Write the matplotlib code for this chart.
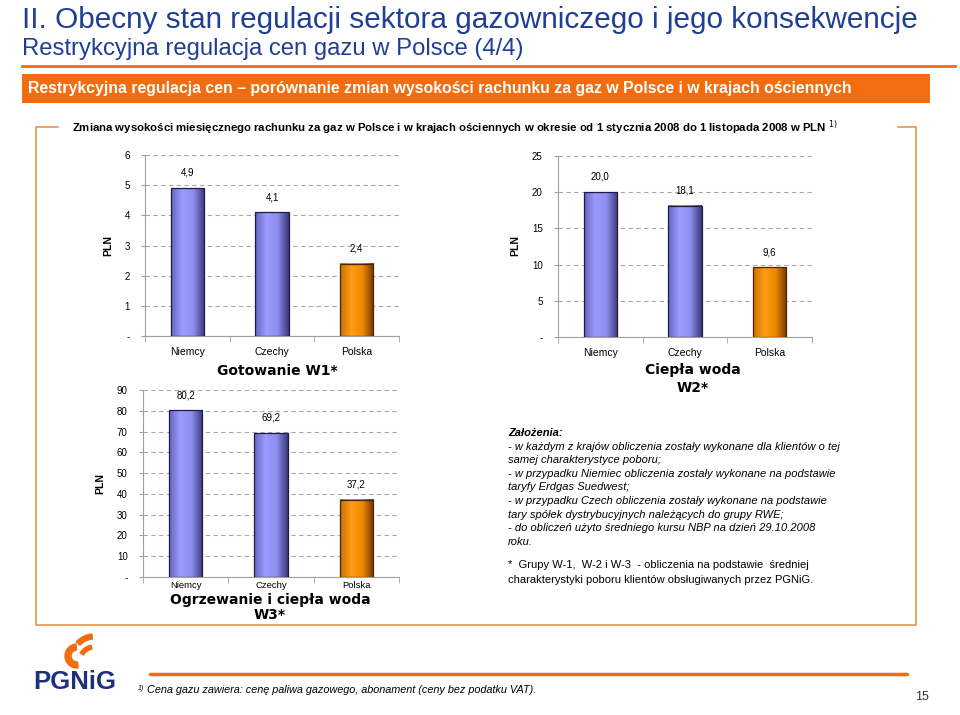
import numpy as np
import matplotlib.pyplot as plt
from matplotlib.colors import LinearSegmentedColormap
from matplotlib.lines import Line2D
from matplotlib.patches import Rectangle, Wedge

plt.rcParams['font.family'] = ['Liberation Sans', 'DejaVu Sans']

# data
countries = ['Niemcy', 'Czechy', 'Polska']
w1_values = [4.9, 4.1, 2.4]
w2_values = [20.0, 18.1, 9.6]
w3_values = [80.2, 69.2, 37.2]
w1_ticks = [0, 1, 2, 3, 4, 5, 6]
w2_ticks = [0, 5, 10, 15, 20, 25]
w3_ticks = [0, 10, 20, 30, 40, 50, 60, 70, 80, 90]

notes = [
    '- w każdym z krajów obliczenia zostały wykonane dla klientów o tej',
    'samej charakterystyce poboru;',
    '- w przypadku Niemiec obliczenia zostały wykonane na podstawie',
    'taryfy Erdgas Suedwest;',
    '- w przypadku Czech obliczenia zostały wykonane na podstawie',
    'tary spółek dystrybucyjnych należących do grupy RWE;',
    '- do obliczeń użyto średniego kursu NBP na dzień 29.10.2008',
    'roku.',
]

W, H = 960, 715
fig = plt.figure(figsize=(9.6, 7.15), dpi=100)
fig.patch.set_facecolor('white')

ORANGE = '#f26d0f'
BLUE_T = '#1f3f95'


def fx(x):
    return x / W


def fy(y):
    return 1 - y / H


def axes_px(l, t, r, b):
    return fig.add_axes([fx(l), fy(b), (r - l) / W, (b - t) / H])


blue_cm = LinearSegmentedColormap.from_list('b', ['#6464c0', '#9c9cff', '#8e8ef0', '#3a3a7a'])
orange_cm = LinearSegmentedColormap.from_list('o', ['#cc7200', '#ff9c14', '#ee8a00', '#733800'])
grad = np.linspace(0, 1, 64)[None, :]


def bar_chart(ax, values, ticks, xpad, cat_size):
    x = np.arange(len(values))
    bars = ax.bar(x, values, 0.39, facecolor='none', edgecolor='#1c1c44', lw=0.9, zorder=3)
    for i, p in enumerate(bars):
        polska = countries[i] == 'Polska'
        x0, w, h = p.get_x(), p.get_width(), p.get_height()
        ax.imshow(grad, extent=(x0, x0 + w, 0, h), aspect='auto',
                  cmap=orange_cm if polska else blue_cm, zorder=2)
        if polska:
            p.set_edgecolor('#4a2600')
        ax.annotate(f'{values[i]:.1f}'.replace('.', ','), (x[i], h), xytext=(0, 11),
                    textcoords='offset points', ha='center', va='center', fontsize=7)
    ax.set_xlim(-0.5, len(values) - 0.5)
    ax.set_ylim(ticks[0], ticks[-1])
    ax.set_yticks(ticks)
    ax.set_yticklabels(['-'] + [str(t) for t in ticks[1:]], fontsize=7)
    ax.set_xticks(x)
    ax.set_xticklabels(countries, fontsize=cat_size)
    ax.set_xticks(np.arange(len(values) + 1) - 0.5, minor=True)
    ax.tick_params(axis='x', which='major', length=0, pad=xpad)
    ax.tick_params(axis='x', which='minor', length=4, color='#a0a0a0')
    ax.tick_params(axis='y', length=3, color='#a0a0a0', pad=8)
    ax.yaxis.grid(True, ls=(0, (4, 3)), color='#a8a8a8', lw=0.8)
    ax.set_axisbelow(True)
    for s in ['top', 'right']:
        ax.spines[s].set_visible(False)
    for s in ['left', 'bottom']:
        ax.spines[s].set_color('#a0a0a0')


ax1 = axes_px(145, 155, 399, 336)
bar_chart(ax1, w1_values, w1_ticks, 8, 7.5)
ax2 = axes_px(558, 156, 812, 337)
bar_chart(ax2, w2_values, w2_ticks, 8, 7.5)
ax3 = axes_px(143, 390, 399, 577)
bar_chart(ax3, w3_values, w3_ticks, 3, 6.8)

# PLN labels
for px, py in [(108, 245), (515, 245), (100, 483)]:
    fig.text(fx(px), fy(py), 'PLN', rotation=90, ha='center', va='center',
             fontsize=7.5, fontweight='bold')

# chart titles
ct = dict(ha='center', va='center', fontsize=10, fontweight='bold', family='DejaVu Sans')
fig.text(fx(277), fy(371), 'Gotowanie W1*', **ct)
fig.text(fx(693), fy(370), 'Ciepła woda', **ct)
fig.text(fx(693), fy(388), 'W2*', **ct)
fig.text(fx(270), fy(600), 'Ogrzewanie i ciepła woda', **ct)
fig.text(fx(270), fy(615), 'W3*', **ct)

# headline
fig.text(fx(22), fy(28), 'II. Obecny stan regulacji sektora gazowniczego i jego konsekwencje',
         fontsize=21.4, color=BLUE_T, va='baseline')
fig.text(fx(22), fy(55), 'Restrykcyjna regulacja cen gazu w Polsce (4/4)',
         fontsize=17.2, color=BLUE_T, va='baseline')
fig.add_artist(Line2D([fx(22), fx(955)], [fy(66), fy(66)], color=ORANGE, lw=2))
fig.add_artist(Rectangle((fx(22), fy(103)), (930 - 22) / W, 29 / H, facecolor=ORANGE,
                         edgecolor='none'))
fig.text(fx(28), fy(89), 'Restrykcyjna regulacja cen – porównanie zmian wysokości rachunku za gaz '
         'w Polsce i w krajach ościennych', color='white', fontsize=11.4, fontweight='bold',
         va='center')

# frame
BOX = '#e9954f'
fl = dict(color=BOX, lw=1.2)
fig.add_artist(Line2D([fx(58), fx(36), fx(36), fx(916), fx(916), fx(898)],
                      [fy(127), fy(127), fy(625), fy(625), fy(127), fy(127)], **fl))
fig.text(fx(72), fy(128), 'Zmiana wysokości miesięcznego rachunku za gaz w Polsce i w krajach '
         'ościennych w okresie od 1 stycznia 2008 do 1 listopada 2008 w PLN $^{1)}$',
         fontsize=8.2, fontweight='bold', va='center')

# notes
fig.text(fx(508), fy(433), 'Założenia:', fontsize=8, fontweight='bold', style='italic',
         va='center')
for i, line in enumerate(notes):
    fig.text(fx(508), fy(446.6 + i * 13.6), line, fontsize=8, style='italic', va='center')
fig.text(fx(508), fy(565), '*  Grupy W-1,  W-2 i W-3  - obliczenia na podstawie  średniej',
         fontsize=8, va='center')
fig.text(fx(508), fy(580), 'charakterystyki poboru klientów obsługiwanych przez PGNiG.',
         fontsize=8, va='center')

# footer
fig.add_artist(Line2D([fx(150), fx(907)], [fy(674), fy(674)], color=ORANGE, lw=2.5,
                      solid_capstyle='round'))
fig.text(fx(138), fy(688), '1)', fontsize=5, style='italic', va='center')
fig.text(fx(147), fy(690), 'Cena gazu zawiera: cenę paliwa gazowego, abonament (ceny bez podatku VAT).',
         fontsize=7.8, style='italic', va='center')
fig.text(fx(922), fy(697), '15', fontsize=9, color='#333333', ha='center', va='center')

# logo
fig.text(fx(75), fy(682), 'PGNiG', fontsize=18.5, fontweight='bold',
         color='#1e2f7c', ha='center', va='center')
lg = fig.add_axes([fx(58), fy(670), 45 / W, 40 / H])
lg.set_xlim(0, 45)
lg.set_ylim(0, 40)
lg.axis('off')
lg.add_patch(Wedge((19, 14), 12, 95, 275, width=6, color=ORANGE))
lg.add_patch(Wedge((36, 12), 24, 95, 138, width=5, color=ORANGE))
lg.add_patch(Wedge((36, 9), 16, 100, 150, width=4, color=ORANGE))

fig.savefig('out.png', dpi=100, facecolor='white')
